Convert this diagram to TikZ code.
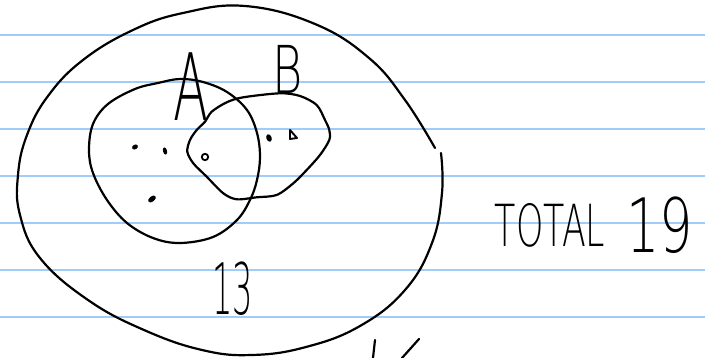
\documentclass[tikz,border=0pt]{standalone}
\usepackage{fontspec}
\newfontfamily\hand{DejaVu Sans ExtraLight}
\definecolor{ruled}{RGB}{160,204,248}
\tikzset{
  ink/.style={line width=2.2pt, line cap=round, line join=round, black},
  rule/.style={line width=1.8pt, ruled},
  dotmark/.style={fill=black, draw=black, line width=0.8pt},
  handtext/.style={inner sep=0pt, font=\hand, black}
}
\begin{document}
\begin{tikzpicture}[x=1pt,y=-1pt]
\fill[white] (0,0) rectangle (705,358);
\useasboundingbox (0,0) rectangle (705,358);
% ruled lines
\foreach \yy in {35,82,129,176,223,270,317}
  \draw[rule] (0,\yy) -- (705,\yy);
% outer ellipse (two strokes with a small gap)
\draw[ink] plot[smooth, tension=0.7] coordinates {
  (435,148) (405,100) (369,58) (315,24) (245,6) (183,13) (133,30) (83,60)
  (48,96) (27,135) (18,175) (20,215) (40,258) (88,300) (144,330) (202,350)
  (252,355) (306,347) (360,326) (405,290) (432,243) (442,193) (441,153)};
% circle A
\draw[ink] plot[smooth cycle, tension=0.6] coordinates {
  (180,79) (203,82) (227,92) (247,110) (257,133) (260,157) (257,180)
  (250,200) (237,220) (213,237) (180,243) (153,238) (127,223) (107,200)
  (93,173) (89,150) (93,124) (108,104) (135,89) (158,83)};
% blob B
\draw[ink] plot[smooth cycle, tension=0.5] coordinates {
  (211.7,111.7) (226.7,102.3) (243.3,97.3) (280,93.3) (300,96) (316.7,105)
  (325,120) (329.3,130) (329.3,140) (320,155) (306.7,170) (293.3,183.3)
  (276.7,195) (256.7,197.3) (236.7,199.3) (223.3,193.3) (206.7,176.7)
  (193.3,163.3) (187.3,151.7) (190,140) (196.7,130) (205,121.7)};
% labels
\node[handtext, font=\hand\fontsize{93}{93}\selectfont, xscale=0.55] (la) at (191,87) {A};
\node[handtext, font=\hand\fontsize{66}{66}\selectfont, xscale=0.7] (lb) at (288,69) {B};
\node[handtext, font=\hand\fontsize{71}{71}\selectfont, xscale=0.45] (n13) at (233,289) {13};
\node[handtext, font=\hand\fontsize{58}{58}\selectfont, xscale=0.6] (total) at (550,225) {TOTAL};
\node[handtext, font=\hand\fontsize{75}{75}\selectfont, xscale=0.7] (n19) at (660,225) {19};
% element marks
\fill[dotmark, rotate around={30:(135,147)}] (135,147) ellipse (2.6 and 1.9);
\fill[dotmark, rotate around={15:(165,151)}] (165,151) ellipse (1.6 and 3.2);
\draw[black, line width=1.8pt] (205,157) circle (3.2);
\fill[dotmark, rotate around={-50:(152,199)}] (152,199) ellipse (2.2 and 4);
\fill[dotmark, rotate around={20:(269,138)}] (269,138) ellipse (2.2 and 3.4);
\draw[black, line width=1.9pt, line join=round] (290,130) -- (290,139) -- (297,138) -- cycle;
% partial strokes at bottom
\draw[ink] (375,340) -- (373,358);
\draw[ink] (419,339) -- (402,358);
\end{tikzpicture}
\end{document}
